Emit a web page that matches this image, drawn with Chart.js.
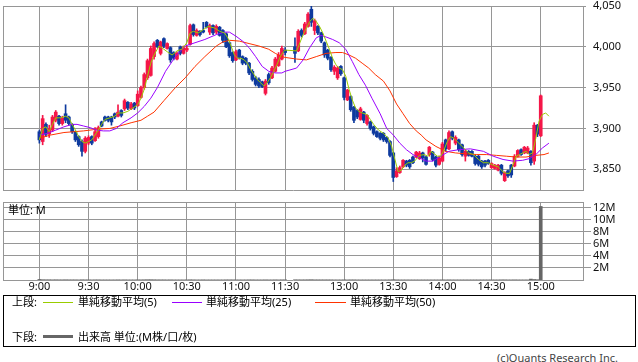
<!DOCTYPE html>
<html>
<head>
<meta charset="utf-8">
<script src="https://cdn.jsdelivr.net/npm/chart.js@4.4.1/dist/chart.umd.min.js"></script>
<style>
body { margin: 0; background: #fff; }
#wrap { position: relative; width: 638px; height: 362px; overflow: hidden;
        font-family: 'Noto Sans', 'Noto Sans CJK JP', sans-serif; font-size: 11px; color: #000; }
canvas { position: absolute; left: 0; }
.t { position: absolute; line-height: 14px; white-space: nowrap; }
.sw { position: absolute; height: 1px; }
#legend { position: absolute; left: 3px; top: 295px; width: 633px; height: 52px;
          border: 1px solid #000; box-sizing: border-box; }
</style>
</head>
<body>
<div id="wrap">
  <canvas id="priceChart" width="638" height="192" style="top:0"></canvas>
  <canvas id="volChart" width="638" height="100" style="top:195px"></canvas>
  <div class="t" style="left:8px;top:203px">単位: M</div>

  <div id="legend"></div>
  <div class="t" style="left:12px;top:295px">上段:</div>
  <div class="sw" style="left:43px;top:302px;width:30px;background:#99cc00"></div>
  <div class="t" style="left:78px;top:295px">単純移動平均(5)</div>
  <div class="sw" style="left:172px;top:302px;width:30px;background:#9900ff"></div>
  <div class="t" style="left:206px;top:295px">単純移動平均(25)</div>
  <div class="sw" style="left:315px;top:302px;width:31px;background:#ff3300"></div>
  <div class="t" style="left:350px;top:295px">単純移動平均(50)</div>
  <div class="t" style="left:12px;top:330px">下段:</div>
  <div class="sw" style="left:43px;top:335px;width:30px;height:3px;background:#666"></div>
  <div class="t" style="left:78px;top:330px">出来高 単位:(M株/口/枚)</div>

  <div class="t" style="right:20px;top:351px;color:#444">(c)Quants Research Inc.</div>
</div>

<script>
// 2-minute candles, morning session then afternoon session
var times = [
    '9:00','9:02','9:04','9:06','9:08','9:10','9:12','9:14','9:16','9:18',
    '9:20','9:22','9:24','9:26','9:28','9:30','9:32','9:34','9:36','9:38',
    '9:40','9:42','9:44','9:46','9:48','9:50','9:52','9:54','9:56','9:58',
    '10:00','10:02','10:04','10:06','10:08','10:10','10:12','10:14','10:16','10:18',
    '10:20','10:22','10:24','10:26','10:28','10:30','10:32','10:34','10:36','10:38',
    '10:40','10:42','10:44','10:46','10:48','10:50','10:52','10:54','10:56','10:58',
    '11:00','11:02','11:04','11:06','11:08','11:10','11:12','11:14','11:16','11:18',
    '11:20','11:22','11:24','11:26','11:28','11:30',
    '12:30','12:32','12:34','12:36','12:38','12:40','12:42','12:44','12:46','12:48',
    '12:50','12:52','12:54','12:56','12:58','13:00','13:02','13:04','13:06','13:08',
    '13:10','13:12','13:14','13:16','13:18','13:20','13:22','13:24','13:26','13:28',
    '13:30','13:32','13:34','13:36','13:38','13:40','13:42','13:44','13:46','13:48',
    '13:50','13:52','13:54','13:56','13:58','14:00','14:02','14:04','14:06','14:08',
    '14:10','14:12','14:14','14:16','14:18','14:20','14:22','14:24','14:26','14:28',
    '14:30','14:32','14:34','14:36','14:38','14:40','14:42','14:44','14:46','14:48',
    '14:50','14:52','14:54','14:56','14:58','15:00'
];

var opens = [
    3896,3884,3905,3893,3898,3910,3915,3906,3918,3914,
    3905,3896,3890,3884,3872,3882,3890,3885,3890,3908,
    3914,3914,3914,3918,3915,3922,3924,3932,3924,3931,
    3928,3938,3950,3962,3965,3988,4008,3992,4010,3998,
    3999,3993,3985,4000,3992,3996,4003,4027,4014,4019,
    4020,4030,4018,4026,4018,4024,4020,4016,4005,3993,
    3984,3996,3988,3986,3980,3970,3962,3960,3957,3943,
    3966,3962,3970,3977,3985,3996,
    4000,3995,4020,4016,4025,4046,4020,4025,4017,4005,
    3996,3987,3970,3962,3976,3962,3935,3939,3926,3922,
    3911,3920,3906,3908,3902,3896,3894,3894,3889,3884,
    3870,3841,3846,3853,3860,3861,3865,3865,3863,3870,
    3865,3868,3871,3865,3856,3860,3886,3875,3896,3882,
    3886,3880,3866,3872,3872,3866,3866,3860,3860,3861,
    3852,3851,3849,3855,3836,3848,3855,3854,3866,3874,
    3870,3870,3872,3860,3904,3891
];
var highs = [
    3898,3916,3907,3904,3916,3922,3916,3915,3929,3915,
    3906,3897,3891,3886,3890,3891,3891,3901,3903,3909,
    3915,3915,3915,3919,3929,3923,3936,3933,3932,3932,
    3946,3952,3968,3985,4001,4006,4009,4007,4011,4005,
    4000,3994,3994,4001,4001,4001,4028,4028,4022,4020,
    4030,4031,4028,4027,4027,4025,4021,4017,4006,3994,
    3996,3997,3989,3987,3981,3972,3964,3962,3958,3960,
    3968,3976,3987,3993,4001,3999,
    4011,4021,4022,4030,4042,4050,4034,4026,4018,4006,
    3997,3988,3977,3976,3977,3963,3948,3940,3927,3923,
    3926,3921,3917,3909,3903,3897,3895,3895,3890,3885,
    3871,3852,3854,3862,3861,3862,3866,3872,3872,3871,
    3866,3878,3872,3866,3866,3883,3887,3897,3897,3891,
    3887,3881,3874,3873,3873,3867,3867,3861,3861,3862,
    3858,3856,3856,3856,3847,3849,3856,3868,3874,3875,
    3878,3878,3873,3907,3905,3941
];
var lows = [
    3882,3880,3890,3889,3896,3908,3904,3904,3907,3904,
    3894,3884,3878,3866,3870,3880,3880,3884,3888,3902,
    3909,3908,3904,3912,3914,3914,3922,3923,3923,3923,
    3927,3937,3948,3960,3964,3985,3999,3990,3999,3997,
    3981,3984,3984,3990,3991,3994,4002,4013,4013,4013,
    4017,4023,4015,4015,4016,4013,4005,3999,3987,3981,
    3983,3985,3978,3978,3966,3958,3952,3950,3950,3941,
    3954,3961,3969,3976,3984,3990,
    3981,3994,4012,4015,4024,4025,4015,4015,4005,3987,
    3984,3970,3966,3960,3965,3935,3934,3921,3907,3912,
    3910,3907,3904,3898,3892,3889,3886,3884,3882,3865,
    3835,3840,3845,3852,3853,3851,3857,3864,3862,3859,
    3855,3866,3860,3853,3855,3859,3872,3874,3886,3880,
    3872,3866,3860,3866,3865,3855,3854,3851,3853,3856,
    3851,3850,3848,3843,3835,3840,3840,3853,3865,3867,
    3869,3869,3855,3856,3890,3890
];
var closes = [
    3886,3912,3893,3900,3914,3920,3906,3913,3910,3906,
    3896,3886,3880,3872,3888,3889,3882,3896,3901,3903,
    3910,3910,3908,3914,3920,3916,3934,3925,3930,3925,
    3942,3950,3966,3983,3998,4004,4000,4006,4001,4004,
    3984,3986,3992,3992,3999,3998,4026,4015,4020,4015,
    4018,4024,4026,4017,4025,4014,4008,4000,3989,3983,
    3994,3987,3980,3980,3968,3960,3954,3952,3951,3958,
    3956,3974,3985,3990,3998,3993,
    3992,4019,4014,4028,4040,4030,4032,4017,4007,3990,
    3986,3972,3975,3974,3967,3938,3947,3923,3910,3914,
    3924,3910,3916,3900,3894,3890,3888,3886,3884,3867,
    3840,3848,3852,3861,3855,3853,3858,3871,3870,3864,
    3856,3877,3862,3855,3864,3881,3875,3895,3888,3889,
    3874,3868,3872,3867,3866,3857,3856,3853,3855,3857,
    3857,3855,3855,3845,3846,3842,3843,3866,3873,3868,
    3877,3876,3858,3904,3893,3940
];
// volume in millions
var volumes = [
    0.09,0.05,0.04,0.04,0.03,0.04,0.03,0.03,0.04,0.03,
    0.03,0.03,0.02,0.04,0.03,0.03,0.02,0.03,0.03,0.02,
    0.02,0.02,0.02,0.02,0.03,0.02,0.03,0.02,0.02,0.02,
    0.03,0.03,0.04,0.05,0.05,0.04,0.03,0.03,0.03,0.02,
    0.03,0.02,0.02,0.02,0.02,0.02,0.04,0.03,0.02,0.02,
    0.03,0.02,0.02,0.02,0.02,0.02,0.02,0.03,0.03,0.03,
    0.02,0.02,0.02,0.02,0.03,0.03,0.02,0.02,0.02,0.03,
    0.02,0.02,0.03,0.02,0.03,0.03,
    0.04,0.03,0.03,0.03,0.04,0.05,0.03,0.03,0.03,0.03,
    0.03,0.03,0.02,0.02,0.02,0.03,0.02,0.03,0.03,0.02,
    0.02,0.02,0.02,0.02,0.02,0.02,0.02,0.02,0.02,0.03,
    0.05,0.03,0.02,0.02,0.02,0.02,0.02,0.02,0.02,0.02,
    0.02,0.02,0.02,0.02,0.02,0.03,0.02,0.03,0.02,0.02,
    0.02,0.02,0.02,0.02,0.02,0.02,0.02,0.02,0.02,0.02,
    0.02,0.02,0.02,0.03,0.03,0.02,0.02,0.03,0.02,0.02,
    0.02,0.02,0.15,0.08,0.05,12.2
];

var ma5Times = [
    '9:00','9:02','9:04','9:06','9:08','9:10','9:13','9:16','9:18','9:20','9:22','9:24','9:26','9:28',
    '9:30','9:32','9:34','9:36','9:38','9:40','9:43','9:46','9:48','9:51','9:54','9:57',
    '10:00','10:02','10:04','10:06','10:08','10:10','10:13','10:16','10:18','10:21','10:24','10:27',
    '10:30','10:32','10:34','10:37','10:40','10:43','10:47','10:50','10:53','10:55','10:57','10:59',
    '11:01','11:03','11:05','11:07','11:09','11:11','11:13','11:15','11:17','11:19','11:21','11:23',
    '11:25','11:27','11:29','11:30',
    '12:31','12:33','12:35','12:37','12:39','12:41','12:43','12:45','12:47','12:49','12:51','12:53',
    '12:55','12:57','12:59','13:01','13:03','13:05','13:07','13:09','13:11','13:14','13:16','13:18',
    '13:21','13:24','13:27','13:29','13:31','13:33','13:35','13:37','13:39','13:41','13:43','13:46',
    '13:49','13:51','13:53','13:55','13:57','13:59','14:01','14:03','14:05','14:07','14:09','14:12',
    '14:14','14:16','14:19','14:22','14:25','14:28','14:31','14:34','14:37','14:39','14:41','14:43',
    '14:45','14:47','14:49','14:51','14:53','14:55','14:57','14:59','15:01','15:03','15:05'
];
var ma5 = [
    3886,3900,3902,3896,3905,3913,3913,3915,3913,3905,3898,3890,3884,3882,
    3884,3886,3892,3898,3905,3911,3913,3915,3919,3919,3921,3925,
    3929,3937,3948,3964,3980,3990,4001,3997,3994,3990,3995,3997,
    4005,4017,4019,4017,4021,4025,4023,4019,4017,4011,4001,3990,
    3986,3986,3984,3980,3972,3966,3960,3956,3952,3956,3962,3970,
    3978,3988,3994,3996,
    3995,4005,4015,4023,4031,4035,4031,4025,4017,4007,3997,3986,
    3978,3974,3972,3964,3948,3935,3925,3921,3919,3917,3911,3905,
    3898,3894,3888,3878,3862,3847,3849,3855,3858,3858,3860,3867,
    3868,3866,3872,3869,3866,3866,3874,3884,3890,3888,3884,3878,
    3874,3870,3868,3862,3858,3858,3855,3853,3847,3845,3845,3855,
    3866,3868,3870,3872,3868,3870,3888,3909,3917,3919,3915
];

var ma25Times = [
    '9:00','9:05','9:10','9:15','9:20','9:23','9:27','9:31','9:35','9:39','9:43','9:47','9:51','9:56',
    '10:00','10:04','10:08','10:12','10:17','10:23','10:29','10:35','10:41','10:48','10:53','10:56',
    '11:00','11:04','11:08','11:12','11:16','11:20','11:24','11:28','11:30',
    '12:31','12:35','12:39','12:43','12:46','12:49','12:53','12:57','13:01','13:05','13:09','13:13',
    '13:17','13:22','13:26','13:30','13:34','13:38','13:42','13:46','13:50','13:54','13:59','14:04',
    '14:10','14:17','14:25','14:31','14:37','14:43','14:49','14:53','14:57','15:01','15:05'
];
var ma25 = [
    3892,3894,3898,3902,3905,3905,3903,3901,3898,3897,3897,3900,3907,3913,
    3919,3927,3937,3950,3970,3988,4001,4005,4009,4015,4018,4018,
    4013,4007,3999,3988,3976,3970,3968,3968,3970,
    3974,3984,3999,4011,4014,4012,4009,4005,3997,3982,3966,3953,
    3937,3918,3900,3892,3882,3874,3868,3864,3860,3860,3866,3872,
    3874,3875,3872,3866,3862,3860,3861,3863,3868,3876,3882
];

var ma50Times = [
    '9:00','9:07','9:15','9:21','9:27','9:35','9:43','9:49','9:56','10:02','10:06','10:10',
    '10:16','10:23','10:29','10:35','10:41','10:48','10:52','10:56','11:02','11:08','11:14',
    '11:20','11:24','11:28','11:30',
    '12:31','12:37','12:43','12:49','12:55','12:59','13:03','13:07','13:11','13:15','13:19',
    '13:24','13:28','13:32','13:36','13:40','13:44','13:47','13:50','13:56','14:02','14:08',
    '14:14','14:21','14:27','14:33','14:39','14:45','14:51','14:57','15:02','15:05'
];
var ma50 = [
    3888,3892,3895,3896,3897,3899,3900,3903,3907,3910,3915,3920,
    3934,3950,3962,3976,3988,4001,4006,4008,4007,4004,4001,
    3997,3992,3988,3987,
    3985,3984,3988,3992,3993,3993,3990,3986,3980,3974,3966,
    3958,3946,3930,3918,3906,3897,3892,3886,3878,3872,3870,
    3869,3868,3868,3867,3866,3865,3865,3867,3868,3870
];

var axisTimes = ['9:00','9:30','10:00','10:30','11:00','11:30','13:00','13:30','14:00','14:30','15:00'];
var priceTicks = [3850, 3900, 3950, 4000, 4050];
var volTicks = [2, 4, 6, 8, 10, 12];

var GRID = 'rgb(150,150,150)';
var UP = 'rgb(245,22,72)';
var DOWN = 'rgb(14,58,158)';
var X_MIN = -22.2, X_MAX = 331.8;
var P_MIN = 3824.6, P_MAX = 4050;
var V_MAX = 12.94;

Chart.defaults.font.family = "'Noto Sans', 'Noto Sans CJK JP', sans-serif";
Chart.defaults.font.size = 11;
Chart.defaults.color = '#111';

// minutes since 9:00, lunch break squeezed down to 6 minutes
function pos(hm) {
    var p = hm.split(':');
    var m = parseInt(p[0]) * 60 + parseInt(p[1]);
    return m <= 690 ? m - 540 : m - 750 + 156;
}

function fixAxis(w, h) {
    return function (s) {
        if (w !== null) s.width = w;
        if (h !== null) s.height = h;
        s.paddingLeft = 0; s.paddingRight = 0;
        s.paddingTop = 0; s.paddingBottom = 0;
    };
}

function timeGrid(s) {
    var vals = [X_MIN].concat(axisTimes.map(pos), [X_MAX]);
    s.ticks = vals.map(function (v) { return { value: v }; });
}

var xs = times.map(pos);
var candleColors = closes.map(function (c, i) { return c >= opens[i] ? UP : DOWN; });

function createPriceChart() {
    var ctx = document.getElementById('priceChart');
    new Chart(ctx, {
        type: 'bar',
        data: {
            datasets: [
                {
                    type: 'line', label: 'MA5', order: 0,
                    data: ma5Times.map(function (t, i) { return { x: pos(t), y: ma5[i] }; }),
                    borderColor: '#99cc00', borderWidth: 1, pointRadius: 0, tension: 0
                },
                {
                    type: 'line', label: 'MA25', order: 0,
                    data: ma25Times.map(function (t, i) { return { x: pos(t), y: ma25[i] }; }),
                    borderColor: '#9900ff', borderWidth: 1, pointRadius: 0, tension: 0
                },
                {
                    type: 'line', label: 'MA50', order: 0,
                    data: ma50Times.map(function (t, i) { return { x: pos(t), y: ma50[i] }; }),
                    borderColor: '#ff3300', borderWidth: 1, pointRadius: 0, tension: 0
                },
                {
                    label: 'body', order: 1, grouped: false,
                    data: xs.map(function (x, i) { return { x: x, y: [opens[i], closes[i]] }; }),
                    backgroundColor: candleColors, borderWidth: 0,
                    barThickness: 3, minBarLength: 1
                },
                {
                    label: 'wick', order: 2, grouped: false,
                    data: xs.map(function (x, i) { return { x: x, y: [lows[i], highs[i]] }; }),
                    backgroundColor: candleColors, borderWidth: 0,
                    barThickness: 1
                }
            ]
        },
        options: {
            responsive: false,
            animation: false,
            devicePixelRatio: 1,
            layout: { padding: { left: 3, right: 0, top: 6, bottom: 2 } },
            plugins: { legend: { display: false }, tooltip: { enabled: false } },
            scales: {
                x: {
                    type: 'linear', min: X_MIN, max: X_MAX, offset: false,
                    afterBuildTicks: timeGrid,
                    afterFit: fixAxis(null, 0),
                    ticks: { display: false },
                    grid: { color: GRID, drawTicks: false, offset: false },
                    border: { color: GRID }
                },
                y: {
                    position: 'right', min: P_MIN, max: P_MAX,
                    afterBuildTicks: function (s) {
                        s.ticks = priceTicks.map(function (v) { return { value: v }; });
                    },
                    afterFit: fixAxis(55, null),
                    ticks: {
                        padding: 7, autoSkip: false, font: { size: 11, lineHeight: 1 },
                        callback: function (v) { return v.toLocaleString('en-US'); }
                    },
                    grid: { color: GRID, tickLength: 3, tickColor: GRID },
                    border: { color: GRID }
                }
            }
        }
    });
}

function createVolumeChart() {
    var ctx = document.getElementById('volChart');
    new Chart(ctx, {
        type: 'bar',
        data: {
            datasets: [{
                label: 'volume',
                data: xs.map(function (x, i) { return { x: x, y: volumes[i] }; }),
                backgroundColor: '#666', borderWidth: 0, barThickness: 3
            }]
        },
        options: {
            responsive: false,
            animation: false,
            devicePixelRatio: 1,
            layout: { padding: { left: 3, right: 0, top: 7, bottom: 0 } },
            plugins: { legend: { display: false }, tooltip: { enabled: false } },
            scales: {
                x: {
                    type: 'linear', min: X_MIN, max: X_MAX, offset: false,
                    afterBuildTicks: timeGrid,
                    afterFit: fixAxis(null, 15),
                    ticks: {
                        padding: 1, maxRotation: 0, autoSkip: false,
                        font: { size: 11, lineHeight: 1 },
                        callback: function (v, i) {
                            return (i === 0 || i > axisTimes.length) ? '' : axisTimes[i - 1];
                        }
                    },
                    grid: { color: GRID, drawTicks: false, offset: false },
                    border: { color: GRID }
                },
                y: {
                    position: 'right', min: 0, max: V_MAX,
                    afterBuildTicks: function (s) {
                        s.ticks = volTicks.concat([V_MAX]).map(function (v) { return { value: v }; });
                    },
                    afterFit: fixAxis(55, null),
                    ticks: {
                        padding: 2, autoSkip: false, font: { size: 11, lineHeight: 1 },
                        callback: function (v) { return v === V_MAX ? '' : v + 'M'; }
                    },
                    grid: {
                        color: GRID, tickLength: 8,
                        tickColor: function (c) {
                            return c.tick && c.tick.value === V_MAX ? 'rgba(0,0,0,0)' : GRID;
                        }
                    },
                    border: { color: GRID }
                }
            }
        }
    });
}

createPriceChart();
createVolumeChart();
</script>
</body>
</html>
